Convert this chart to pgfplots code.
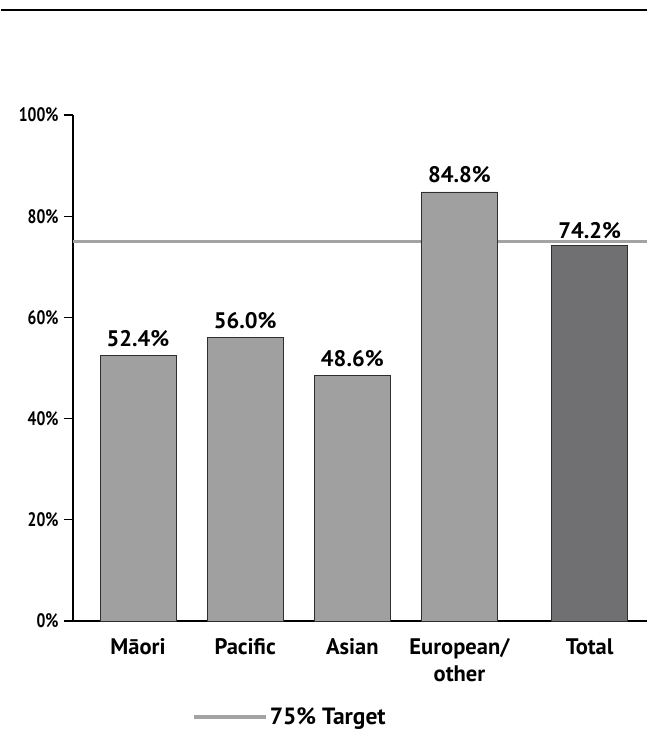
\documentclass[border=0pt]{standalone}
\usepackage{fontspec}
\setmainfont{PT Sans}
\newfontfamily\condfont{PT Sans}[FakeStretch=0.8]
\usepackage{pgfplots}
\pgfplotsset{compat=1.18}
\definecolor{barfill}{HTML}{A0A0A0}
\definecolor{totalfill}{HTML}{707072}
\definecolor{targetline}{HTML}{A3A3A3}
\definecolor{edge}{HTML}{2E2E2E}
\begin{document}
\begin{tikzpicture}[x=1pt,y=1pt]
\path (0,0) rectangle (646,733);
\draw[line width=2pt] (0,723) -- (646,723);
\begin{axis}[
  at={(72pt,112pt)}, anchor=south west,
  scale only axis, width=574pt, height=506pt,
  xmin=-0.607, xmax=4.75, ymin=0, ymax=100,
  axis x line*=bottom, axis y line*=left,
  axis line style={-, line width=1.2pt, black},
  xtick={0,1,2,3,4.215},
  xticklabels={Māori,Pacific,Asian,European/\\other,Total},
  xticklabel style={align=center, font=\fontsize{22.5}{27}\selectfont\bfseries, yshift=-5pt},
  x tick style={draw=none},
  ytick={0,20,40,60,80,100},
  yticklabel={\pgfmathprintnumber{\tick}\%},
  yticklabel style={font=\condfont\fontsize{19.5}{20}\selectfont\bfseries, xshift=-2pt},
  /pgf/number format/assume math mode=true,
  y tick style={line width=1.2pt, black},
  tick align=outside, major tick length=9pt,
  legend style={draw=none, fill=none, at={(axis description cs:0.378,-0.19)}, anchor=center,
    font=\fontsize{23.5}{24}\selectfont\bfseries, inner sep=0pt},
  legend image code/.code={\draw[targetline, line width=3.5pt] (0pt,0pt) -- (72pt,0pt);},
  clip=false,
]
% 75% target
\addplot[targetline, line width=3.5pt, sharp plot, no marks] coordinates {(-0.607,75) (4.75,75)};
\addlegendentry{75\% Target}
% ethnic groups
\addplot[ybar, bar width=76pt, bar shift=0pt, fill=barfill, draw=edge, line width=0.8pt,
  nodes near coords={\pgfmathprintnumber[fixed,fixed zerofill,precision=1]{\pgfplotspointmeta}\%},
  every node near coord/.append style={font=\fontsize{22.5}{23}\selectfont\bfseries, black, yshift=5pt},
  forget plot] coordinates {(0,52.4) (1,56.0) (2,48.6) (3,84.8)};
% total
\addplot[ybar, bar width=76pt, bar shift=0pt, fill=totalfill, draw=edge, line width=0.8pt,
  nodes near coords={\pgfmathprintnumber[fixed,fixed zerofill,precision=1]{\pgfplotspointmeta}\%},
  every node near coord/.append style={font=\fontsize{22.5}{23}\selectfont\bfseries, black, yshift=3pt},
  forget plot] coordinates {(4.215,74.2)};
\end{axis}
\end{tikzpicture}
\end{document}
